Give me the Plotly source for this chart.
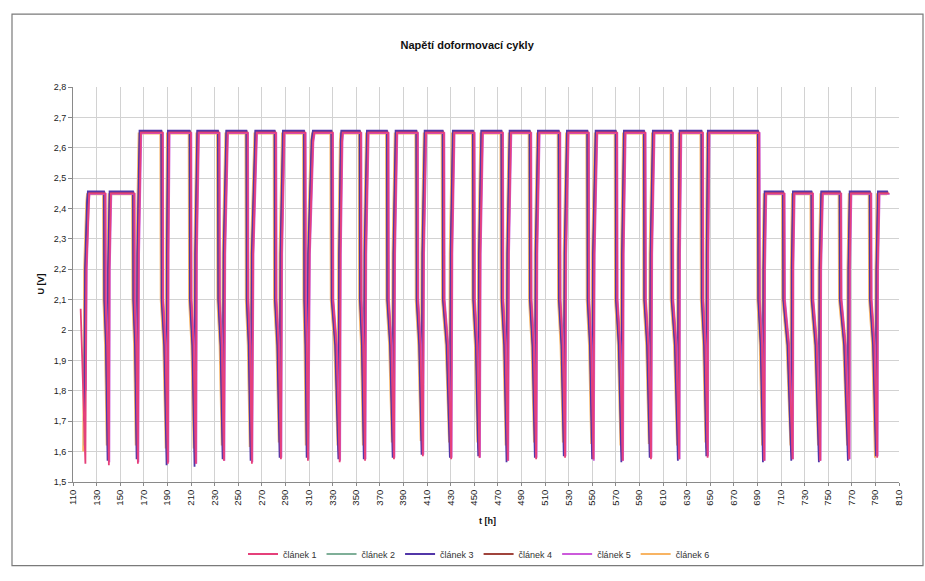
import plotly.graph_objects as go

# ---------------------------------------------------------------------------
# Data: cell voltages during the post-formation cycles
# ---------------------------------------------------------------------------
cells = ["článek 1", "článek 2", "článek 3", "článek 4", "článek 5", "článek 6"]
colors = ["#E5407A", "#7FAF98", "#5236A8", "#A0443C", "#CC5ADB", "#F8B463"]

# start / end of each constant-voltage charge plateau [h]
t_on = [123.2, 141.6, 167.0, 191.0, 215.9, 240.5, 265.1, 288.5, 313.9, 338.0,
        359.7, 384.0, 408.6, 432.5, 456.6, 480.6, 504.6, 529.2, 553.5, 577.5,
        602.0, 624.7, 648.6, 696.7, 720.7, 744.7, 768.8, 792.7]
t_off = [136.8, 161.4, 185.4, 209.4, 233.4, 257.5, 281.4, 306.3, 329.5, 353.5,
         376.6, 401.5, 423.8, 449.5, 473.6, 497.5, 522.1, 546.4, 570.4, 594.4,
         617.6, 643.1, 691.0, 712.2, 736.3, 760.2, 785.7, 801.2]
# charge voltage set for each cycle [V]
u_charge = [2.45, 2.45, 2.65, 2.65, 2.65, 2.65, 2.65, 2.65, 2.65, 2.65,
            2.65, 2.65, 2.65, 2.65, 2.65, 2.65, 2.65, 2.65, 2.65, 2.65,
            2.65, 2.65, 2.65, 2.45, 2.45, 2.45, 2.45, 2.45]
# end of discharge preceding each charge [h]
t_min = [120.0, 139.9, 164.5, 189.9, 213.6, 237.4, 261.1, 285.7, 308.6, 335.5,
         357.0, 381.5, 406.0, 430.0, 454.0, 478.0, 502.0, 526.5, 550.5, 575.3,
         599.3, 623.2, 647.3, 695.3, 719.3, 742.7, 767.3, 791.0]

# end-of-discharge voltage of each cell [V]
u_min = {
    "článek 1": [1.56, 1.555, 1.56, 1.56, 1.56, 1.57, 1.56, 1.575, 1.57, 1.565,
                 1.57, 1.575, 1.585, 1.575, 1.58, 1.57, 1.575, 1.58, 1.575, 1.57,
                 1.575, 1.575, 1.58, 1.57, 1.575, 1.57, 1.575, 1.58],
    "článek 2": [1.62, 1.58, 1.59, 1.585, 1.58, 1.59, 1.585, 1.60, 1.595, 1.59,
                 1.595, 1.60, 1.61, 1.60, 1.605, 1.595, 1.60, 1.605, 1.60, 1.595,
                 1.60, 1.60, 1.605, 1.60, 1.60, 1.595, 1.60, 1.605],
    "článek 3": [1.70, 1.57, 1.575, 1.555, 1.55, 1.575, 1.57, 1.58, 1.58, 1.575,
                 1.575, 1.58, 1.59, 1.58, 1.585, 1.565, 1.58, 1.585, 1.575, 1.565,
                 1.58, 1.57, 1.585, 1.565, 1.57, 1.565, 1.57, 1.585],
    "článek 4": [1.75, 1.60, 1.60, 1.59, 1.59, 1.60, 1.595, 1.61, 1.60, 1.60,
                 1.60, 1.61, 1.615, 1.61, 1.61, 1.60, 1.61, 1.61, 1.605, 1.60,
                 1.605, 1.60, 1.61, 1.60, 1.60, 1.60, 1.60, 1.61],
    "článek 5": [1.80, 1.565, 1.565, 1.565, 1.56, 1.57, 1.565, 1.58, 1.575, 1.57,
                 1.575, 1.58, 1.59, 1.58, 1.58, 1.57, 1.58, 1.585, 1.57, 1.57,
                 1.58, 1.575, 1.585, 1.57, 1.575, 1.57, 1.575, 1.585],
    "článek 6": [1.60, 1.62, 1.62, 1.61, 1.61, 1.62, 1.615, 1.63, 1.62, 1.62,
                 1.62, 1.63, 1.635, 1.63, 1.63, 1.62, 1.63, 1.63, 1.625, 1.62,
                 1.625, 1.62, 1.63, 1.62, 1.62, 1.62, 1.62, 1.58],
}
# measured plateau level of each cell at 2.65 V and 2.45 V set points [V]
u_plateau_hi = {"článek 1": 2.650, "článek 2": 2.649, "článek 3": 2.656,
                "článek 4": 2.654, "článek 5": 2.648, "článek 6": 2.647}
u_plateau_lo = {"článek 1": 2.450, "článek 2": 2.449, "článek 3": 2.456,
                "článek 4": 2.454, "článek 5": 2.448, "článek 6": 2.447}
# time shift of each cell's record [h]
t_shift = {"článek 1": 0.5, "článek 2": -0.2, "článek 3": -0.6,
           "článek 4": -0.3, "článek 5": 0.9, "článek 6": -1.4}
# first logged sample (before the first end of discharge)
first_sample = {"článek 1": (116.5, 2.07)}

u_knee_charge = 2.25     # voltage right after switching to charge [V]
u_knee_discharge = 2.10  # voltage right after switching to discharge [V]
u_mid_discharge = 1.95

y_ticks = [1.5, 1.6, 1.7, 1.8, 1.9, 2.0, 2.1, 2.2, 2.3, 2.4, 2.5, 2.6, 2.7, 2.8]
y_tick_text = ["1,5", "1,6", "1,7", "1,8", "1,9", "2", "2,1", "2,2", "2,3",
               "2,4", "2,5", "2,6", "2,7", "2,8"]
x_ticks = list(range(110, 811, 20))

# draw order; the legend keeps the numeric order
draw_order = ["článek 6", "článek 2", "článek 4", "článek 3", "článek 5", "článek 1"]


def cell_curve(name):
    s = t_shift[name]
    xs, ys = [], []
    if name in first_sample:
        xs.append(first_sample[name][0])
        ys.append(first_sample[name][1])
    n = len(t_on)
    for k in range(n):
        hi = u_charge[k] > 2.5
        up = u_plateau_hi[name] if hi else u_plateau_lo[name]
        tm, tn = t_min[k] + s, t_on[k] + s
        gap = tn - tm
        xs += [tm, tm + 0.25 * gap, tn - 0.2 * gap, tn]
        ys += [u_min[name][k], u_knee_charge if hi else 2.2, up - 0.03, up]
        tf = t_off[k] + s
        xs.append(tf)
        ys.append(up)
        if k < n - 1:
            tnext = t_min[k + 1] + s
            xs += [tf + 0.3, tf + 0.55 * (tnext - tf)]
            ys += [u_knee_discharge, u_mid_discharge]
    return xs, ys


fig = go.Figure()
for name in draw_order:
    xs, ys = cell_curve(name)
    fig.add_trace(go.Scatter(
        x=xs, y=ys, mode="lines", name=name,
        line=dict(color=colors[cells.index(name)], width=1.8),
        legendrank=cells.index(name) + 1,
    ))

L, R, T, B = 73, 26, 87, 88
W, H = 925, 581
pw, ph = W - L - R, H - T - B


def px(xp):
    return (xp - L) / pw


def py(yp):
    return (H - B - yp) / ph


axis_font = dict(family="Liberation Sans, Arial, sans-serif", size=9, color="#222222")

fig.update_layout(
    width=W, height=H,
    margin=dict(l=L, r=R, t=T, b=B),
    paper_bgcolor="white", plot_bgcolor="white",
    font=axis_font,
    title=dict(text="<b>Napětí doformovací cykly</b>", x=0.505, xref="container",
               y=1 - 45 / H, yref="container", xanchor="center", yanchor="middle",
               font=dict(family="Liberation Sans, Arial, sans-serif", size=11, color="#111111")),
    xaxis=dict(range=[110, 810], tickvals=x_ticks, ticktext=[str(v) for v in x_ticks],
               tickangle=-90, tickfont=dict(size=9.5),
               showgrid=True, gridcolor="#D2D2D2", gridwidth=1,
               showline=True, linecolor="#8A8A8A", linewidth=1,
               ticks="outside", ticklen=3, tickcolor="#8A8A8A", zeroline=False),
    yaxis=dict(range=[1.5, 2.8], tickvals=y_ticks, ticktext=y_tick_text,
               showgrid=True, gridcolor="#D2D2D2", gridwidth=1,
               showline=True, linecolor="#8A8A8A", linewidth=1,
               ticks="outside", ticklen=4, tickcolor="#8A8A8A", zeroline=False),
    legend=dict(orientation="h", x=px(479), y=py(567), xanchor="center", yanchor="middle",
                font=dict(size=9, color="#333333"), itemwidth=30, tracegroupgap=0,
                bgcolor="rgba(0,0,0,0)"),
    showlegend=True,
    annotations=[
        dict(text="<b>U [V]</b>", x=px(33), y=py(290), xref="paper", yref="paper",
             showarrow=False, textangle=-90, font=dict(size=9, color="#111111")),
        dict(text="<b>t [h]</b>", x=px(487), y=py(540), xref="paper", yref="paper",
             showarrow=False, font=dict(size=9, color="#111111")),
    ],
    shapes=[
        dict(type="rect", xref="paper", yref="paper",
             x0=px(12), x1=px(923), y0=py(579), y1=py(12),
             line=dict(color="#7A7A7A", width=1.2), fillcolor="rgba(0,0,0,0)", layer="below"),
    ],
)

fig.write_html("out.html")
